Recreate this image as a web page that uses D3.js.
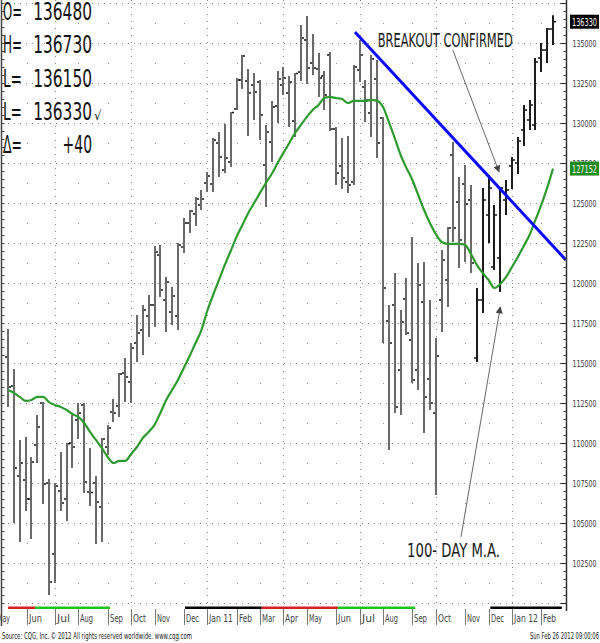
<!DOCTYPE html>
<html>
<head>
<meta charset="utf-8">
<script src="https://cdn.jsdelivr.net/npm/d3@7"></script>
<style>
  body { margin: 0; background: #fff; }
  svg { display: block; }
  text { font-family: "Liberation Sans Narrow", "DejaVu Sans Condensed", "Liberation Sans", sans-serif; }
</style>
</head>
<body>
<div id="chart"></div>
<script>
// weekly bars, mid May 2010 to the week of Feb 20 2012 (index 0..93)
const opens = [115380,113560,107940,107690,106500,109880,112500,107500,103060,107000,
  106500,110000,111440,112380,106940,107500,106000,109750,111940,112310,
  114380,113810,116250,117060,117940,118630,121750,118940,118190,117940,
  122250,123750,124310,124880,126250,126190,128750,127060,127560,130880,
  132690,132630,132380,132560,127380,128810,131060,132380,131880,130130,
  133190,135190,133750,133380,132940,134250,129630,127310,126310,126310,
  133310,132250,130630,132750,130310,117630,118630,114560,119000,116440,
  114560,118810,114000,111880,118940,120190,128000,125060,126190,125190,
  115310,118940,124250,121000,121560,125190,127310,127500,129560,130190,
  129880,134060,134560,135880];
const highs = [117130,114630,110190,110380,109130,111750,112560,107750,107500,109440,
  110000,111750,112500,112500,109690,107940,110310,111130,112750,114380,
  115310,116250,118000,118630,119250,122310,122380,120380,119750,122500,
  124060,124560,125380,125810,126940,129060,129440,129940,130690,132810,
  134250,133380,133130,132690,129880,131380,133250,133500,132940,133130,
  136130,136690,135560,134380,133250,134440,129750,129060,129190,133630,
  135190,132690,134250,133940,130380,118630,120630,118310,120310,122880,
  121250,121310,118940,116560,122060,123500,128810,126630,127380,126130,
  119690,125940,126750,124880,126000,126440,127880,129130,131130,131440,
  134060,135000,135940,136730];
const lows = [112250,105000,103810,105750,104000,108750,106190,100500,101250,105750,
  105130,108440,110250,106880,106060,103690,103810,109250,111310,111630,
  112560,112500,115060,115500,116630,117250,119130,116940,117380,117060,
  121880,123130,123560,124560,125690,125690,126630,126880,127250,130810,
  132130,129190,130190,128940,124750,127560,130000,131750,129750,129130,
  132630,132440,133000,131630,130810,129500,126130,125880,125630,126130,
  132560,130060,129130,127810,116250,109560,111880,111750,116750,113750,
  113310,110630,112060,106750,116940,118500,122560,120940,121310,120630,
  115060,118130,122500,120810,119440,124250,125880,126810,128560,129560,
  129560,133190,133750,134880];
const closes = [113500,108440,108750,106500,108810,111000,107440,101310,107310,106250,
  109950,109750,111880,107560,106900,106310,110250,110940,111880,114310,
  114130,115940,116880,118310,118630,121940,119560,120060,119190,122380,
  123750,124500,125250,125250,126690,128940,127880,127810,130650,132690,
  134190,131880,131940,130500,129440,131000,132750,132810,132560,133100,
  135310,133440,133440,132810,131750,129630,126880,126560,126130,133500,
  134250,131440,134000,128750,119690,116250,112250,117560,116880,113940,
  119880,112880,112500,115440,121440,123440,123440,122690,124940,121250,
  118940,125190,125940,124250,125940,125810,127690,128880,130810,131130,
  133810,134560,135880,136330];

// 100-day moving average, read at each weekly bar
const maValues = [113310,113130,112880,112630,112690,112880,112880,112560,112380,112250,
  112060,111810,111630,111250,110690,110190,109690,109130,108750,108880,
  108880,109310,109750,110310,110690,111130,111880,112690,113310,113940,
  114690,115440,116250,117060,118250,119250,120190,121130,122000,122880,
  123630,124380,125000,125630,126250,126810,127500,128130,128750,129380,
  129880,130380,130810,131130,131560,131630,131560,131500,131250,131380,
  131380,131380,131440,131380,131000,130060,129060,128000,127190,126440,
  125500,124560,123750,123060,122560,122440,122440,122440,122380,121810,
  121130,120630,120190,119690,119940,120380,121000,121630,122310,123000,
  123940,124880,125940,127152];

// downtrend line: two points (bar index, price)
const trendIdx = [59.2, 95.2];
const trendVal = [135690, 121440];

// month labels and the bar index of the first bar of each month
const monthLabels = ["May","Jun","Jul","Aug","Sep","Oct","Nov","Dec","Jan 11","Feb","Mar","Apr",
  "May","Jun","Jul","Aug","Sep","Oct","Nov","Dec","Jan 12","Feb"];
const monthIdx = [-2.3,3.2,8,12,17,21,25,30,34,39,43,47,51,56,60,64,69,73,78,82,86,91];
const quarterMonths = ["Jan 11","Apr","Jul","Oct","Jan 12"];

// contract colour band under the chart
const bandBreaks = [0, 4.6, 17.4, 30.2, 43.3, 56.3, 69.5, 82.3, 94.5];
const bandColors = ["#d42020","#22c422","#ffffff","#000000","#d42020","#22c422","#ffffff","#000000"];

const priceTicks = d3.range(102500, 135001, 2500);
const gridTicks = d3.range(100000, 137501, 2500);
const minorTicks = d3.range(100000, 137501, 500);

const quoteLabels = ["O=", "H=", "L=", "L=", "\u0394="];
const quoteValues = ["136480", "136730", "136150", "136330", "+40"];
const lastClose = 136330;
const lastMA = 127152;

const width = 600, height = 643;
const plotRight = 566.5, plotBottom = 603;

const x = d3.scaleLinear().domain([0, 93]).range([8, 553]);
const y = d3.scaleLinear().domain([100000, 137500]).range([603, 3]);

const svg = d3.select("#chart").append("svg")
    .attr("width", width)
    .attr("height", height);

svg.append("rect").attr("width", width).attr("height", height).attr("fill", "#fff");

const defs = svg.append("defs");
defs.append("clipPath").attr("id", "plot")
  .append("rect").attr("x", 2).attr("y", 0).attr("width", plotRight - 2).attr("height", plotBottom);

defs.append("marker")
    .attr("id", "arrow")
    .attr("viewBox", "0 0 10 10")
    .attr("refX", 9).attr("refY", 5)
    .attr("markerWidth", 9).attr("markerHeight", 7)
    .attr("markerUnits", "userSpaceOnUse")
    .attr("orient", "auto")
  .append("path").attr("d", "M0,0L10,5L0,10z").attr("fill", "#444");

// grid
const grid = svg.append("g");
grid.selectAll(".h").data(gridTicks).enter().append("line")
    .attr("x1", 2).attr("x2", plotRight)
    .attr("y1", d => y(d) + 0.5).attr("y2", d => y(d) + 0.5)
    .attr("stroke", "#8a8a8a").attr("stroke-width", 1)
    .attr("stroke-dasharray", "1,5");

monthIdx.forEach((m, k) => {
    if (k === 0) return;
    const xx = Math.round(x(m)) + 0.5;
    if (quarterMonths.includes(monthLabels[k])) {
        grid.append("line")
            .attr("x1", xx).attr("x2", xx).attr("y1", 0).attr("y2", plotBottom)
            .attr("stroke", "#8a8a8a").attr("stroke-dasharray", "1,6");
    } else {
        // single dots half way between the price grid lines
        grid.append("line")
            .attr("x1", xx).attr("x2", xx).attr("y1", y(136250)).attr("y2", plotBottom)
            .attr("stroke", "#8a8a8a").attr("stroke-dasharray", "1,39");
    }
});

// colour band
svg.append("g").selectAll("rect").data(bandColors).enter().append("rect")
    .attr("x", (d, i) => x(bandBreaks[i]))
    .attr("width", (d, i) => Math.min(x(bandBreaks[i + 1]), plotRight - 2) - x(bandBreaks[i]))
    .attr("y", 606.5).attr("height", 2.5)
    .attr("fill", d => d);

// bars
const bars = svg.append("g").attr("clip-path", "url(#plot)");
const barColor = i => i >= 80 ? "#1c1c1c" : "#6a6a6a";

bars.selectAll(".hl").data(highs).enter().append("line")
    .attr("x1", (d, i) => Math.round(x(i))).attr("x2", (d, i) => Math.round(x(i)))
    .attr("y1", d => y(d)).attr("y2", (d, i) => y(lows[i]))
    .attr("stroke", (d, i) => barColor(i)).attr("stroke-width", 2);

bars.selectAll(".op").data(opens).enter().append("line")
    .attr("x1", (d, i) => Math.round(x(i)) - 3).attr("x2", (d, i) => Math.round(x(i)) - 1)
    .attr("y1", d => y(d)).attr("y2", d => y(d))
    .attr("stroke", "#111").attr("stroke-width", 1.5);

bars.selectAll(".cl").data(closes).enter().append("line")
    .attr("x1", (d, i) => Math.round(x(i)) + 1).attr("x2", (d, i) => Math.round(x(i)) + 3)
    .attr("y1", d => y(d)).attr("y2", d => y(d))
    .attr("stroke", "#111").attr("stroke-width", 1.5);

// moving average
const maLine = d3.line()
    .x((d, i) => x(i))
    .y(d => y(d))
    .curve(d3.curveMonotoneX);

bars.append("path")
    .datum(maValues)
    .attr("d", maLine)
    .attr("fill", "none")
    .attr("stroke", "#2e9b2e")
    .attr("stroke-width", 2.2);

// trend line
bars.append("line")
    .attr("x1", x(trendIdx[0])).attr("y1", y(trendVal[0]))
    .attr("x2", x(trendIdx[1])).attr("y2", y(trendVal[1]))
    .attr("stroke", "#0a0aff").attr("stroke-width", 3);

// right price axis
const right = svg.append("g").attr("transform", `translate(${plotRight},0)`);
right.append("g")
    .call(d3.axisLeft(y).tickValues(minorTicks).tickSize(3).tickFormat(""))
    .call(g => g.select(".domain").remove())
    .selectAll("line").attr("stroke", "#333");
right.append("g")
    .call(d3.axisLeft(y).tickValues(gridTicks).tickSize(6).tickFormat(""))
    .call(g => g.select(".domain").remove())
    .selectAll("line").attr("stroke", "#222");
right.append("line").attr("x1", 0).attr("x2", 0).attr("y1", 0).attr("y2", 611)
    .attr("stroke", "#333").attr("stroke-width", 1.5);

const labels = right.append("g")
    .call(d3.axisRight(y).tickValues(priceTicks).tickSize(0).tickPadding(6).tickFormat(d3.format("d")));
labels.select(".domain").remove();
labels.attr("font-family", null).attr("font-size", null);
labels.selectAll("text")
    .attr("font-size", 9.5)
    .attr("fill", "#3a3a3a")
    .attr("textLength", 24)
    .attr("lengthAdjust", "spacingAndGlyphs");

// left border
const left = svg.append("g").attr("transform", "translate(1.5,0)");
left.call(d3.axisRight(y).tickValues(minorTicks).tickSize(3).tickFormat(""))
    .call(g => g.select(".domain").remove())
    .selectAll("line").attr("stroke", "#444");
left.append("line").attr("y1", 0).attr("y2", 626).attr("stroke", "#444").attr("stroke-width", 1.5);

// price tags
function tag(value, fill) {
    const g = svg.append("g").attr("transform", `translate(570,${y(value)})`);
    g.append("rect").attr("x", 0).attr("y", -7).attr("width", 29).attr("height", 14).attr("fill", fill);
    g.append("text").attr("x", 2).attr("y", 4)
        .attr("font-size", 10.5).attr("fill", "#fff")
        .attr("textLength", 25).attr("lengthAdjust", "spacingAndGlyphs")
        .text(d3.format("d")(value));
}
tag(lastClose, "#000");
tag(lastMA, "#1f8a1f");

// month axis
const months = svg.append("g");
monthIdx.forEach((m, k) => {
    const xx = Math.round(x(m)) + 0.5;
    months.append("line")
        .attr("x1", xx).attr("x2", xx).attr("y1", 609).attr("y2", 625)
        .attr("stroke", "#777").attr("stroke-width", 1);
    months.append("text")
        .attr("x", xx + 1.5).attr("y", 622)
        .attr("font-size", 11).attr("fill", "#444")
        .attr("textLength", monthLabels[k].length > 3 ? 24 : 13)
        .attr("lengthAdjust", "spacingAndGlyphs")
        .text(monthLabels[k]);
});

// quote block top left
const quote = svg.append("g");
quoteLabels.forEach((s, k) => {
    const base = 20 + k * 33.3;
    quote.append("text").attr("x", 3).attr("y", base)
        .attr("font-size", 24).attr("fill", "#111")
        .attr("textLength", 19).attr("lengthAdjust", "spacingAndGlyphs")
        .text(s);
    quote.append("text").attr("x", 92).attr("y", base)
        .attr("text-anchor", "end")
        .attr("font-size", 24).attr("fill", "#111")
        .attr("textLength", quoteValues[k].length * 9.8).attr("lengthAdjust", "spacingAndGlyphs")
        .text(quoteValues[k]);
});
quote.append("text").attr("x", 94).attr("y", 120)
    .attr("font-size", 13).attr("fill", "#111").text("\u221A");

// annotations
const notes = svg.append("g");
notes.append("text")
    .attr("x", x(63.1)).attr("y", y(134750))
    .attr("font-size", 19).attr("fill", "#1a1a1a")
    .attr("textLength", 135).attr("lengthAdjust", "spacingAndGlyphs")
    .text("BREAKOUT CONFIRMED");
notes.append("line")
    .attr("x1", x(75.9)).attr("y1", y(134560))
    .attr("x2", x(83.8)).attr("y2", y(126940))
    .attr("stroke", "#666").attr("stroke-width", 1)
    .attr("marker-end", "url(#arrow)");

notes.append("text")
    .attr("x", x(68.1)).attr("y", y(102880))
    .attr("font-size", 19).attr("fill", "#1a1a1a")
    .attr("textLength", 93).attr("lengthAdjust", "spacingAndGlyphs")
    .text("100- DAY M.A.");
notes.append("line")
    .attr("x1", x(77.3)).attr("y1", y(104130))
    .attr("x2", x(84)).attr("y2", y(118500))
    .attr("stroke", "#666").attr("stroke-width", 1)
    .attr("marker-end", "url(#arrow)");

// footer
svg.append("text").attr("x", 2).attr("y", 639)
    .attr("font-size", 9).attr("fill", "#222")
    .attr("textLength", 190).attr("lengthAdjust", "spacingAndGlyphs")
    .text("Source: CQG, Inc. \u00A9 2012 All rights reserved worldwide. www.cqg.com");
svg.append("text").attr("x", 530).attr("y", 639)
    .attr("font-size", 9).attr("fill", "#222")
    .attr("textLength", 69).attr("lengthAdjust", "spacingAndGlyphs")
    .text("Sun Feb 26 2012 09:00:06");
</script>
</body>
</html>
